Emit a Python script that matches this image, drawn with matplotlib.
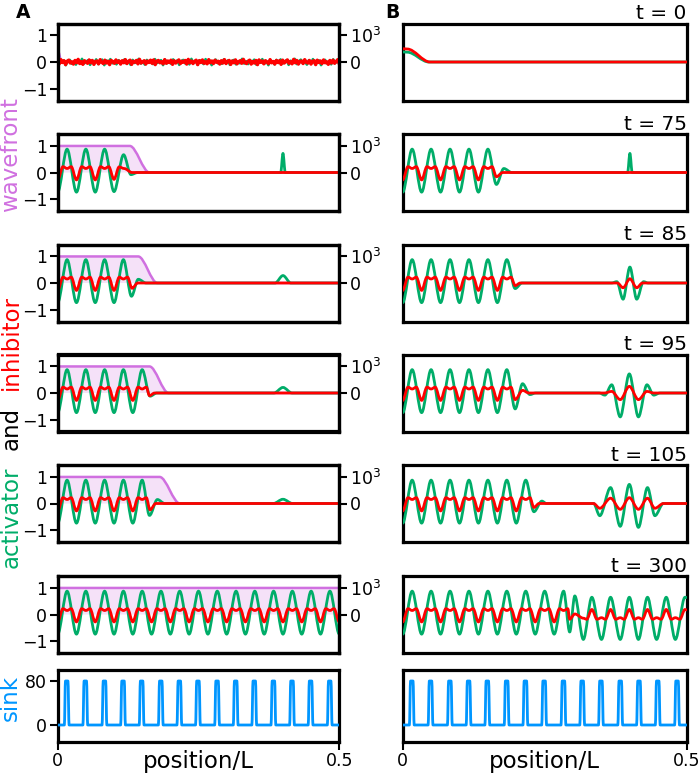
import numpy as np
import matplotlib
matplotlib.use('Agg')
import matplotlib.pyplot as plt
from matplotlib.path import Path
from matplotlib.patches import PathPatch

GREEN = '#00ad69'
RED = '#ff0000'
VIOLET = '#d070e0'
VFILL = '#f5e1f8'
BLUE = '#0096ff'

# ---------------- data ----------------
PERIOD = 1 / 30
ACT_TROUGH, ACT_PEAK = -0.74, 0.88
INH_PHASES = [0.0, 0.28, 0.5, 0.72]
INH_VALUES = [-0.28, 0.22, 0.15, 0.22]

TIMES = ['t = 0', 't = 75', 't = 85', 't = 95', 't = 105', 't = 300']
A_PERIODS = [0, 3, 4, 5, 5, 15]
B_PERIODS = [0, 5, 6, 6, 7, 9]

# noise at t = 0 (panel A)
RED_NOISE = [
    0.04, -0.07, 0.09, -0.02, 0.05, -0.10, 0.03, 0.07, -0.04, 0.01, -0.08, 0.06, -0.03, 0.10, -0.06, 0.02, -0.09, 0.05, 0.00, -0.05,
    0.08, -0.03, 0.06, -0.09, 0.02, 0.04, -0.07, 0.09, -0.01, -0.06, 0.07, -0.04, 0.03, -0.10, 0.06, 0.01, -0.05, 0.08, -0.02, 0.04,
    -0.08, 0.05, -0.03, 0.09, -0.06, 0.02, 0.07, -0.09, 0.03, -0.01, 0.06, -0.07, 0.10, -0.04, 0.00, 0.05, -0.08, 0.04, -0.02, 0.07,
    -0.05, 0.08, -0.10, 0.03, 0.06, -0.03, 0.01, -0.07, 0.09, -0.05, 0.04, -0.02, 0.07, -0.09, 0.05, -0.04, 0.02, 0.08, -0.06, 0.03,
    -0.01, 0.06, -0.08, 0.10, -0.03, 0.04, -0.06, 0.02, 0.07, -0.10, 0.05, -0.02, 0.08, -0.05, 0.01, -0.07, 0.09, -0.03, 0.04, -0.06,
    0.07, -0.01, 0.03, -0.08, 0.05, -0.04, 0.09, -0.06, 0.02, 0.06, -0.09, 0.04, -0.03, 0.08, -0.07, 0.01, 0.05, -0.05, 0.10, -0.02,
    -0.06, 0.03, 0.07, -0.08, 0.02, -0.04, 0.06, -0.10, 0.08, -0.01, 0.04, -0.07, 0.05, 0.00, -0.06, 0.09, -0.03, 0.02, -0.08, 0.06,
    -0.02, 0.05, -0.09, 0.07, -0.04, 0.03, 0.08, -0.05, 0.01, -0.07, 0.10, -0.03, 0.06, -0.08, 0.02, 0.04, -0.06, 0.09, -0.01, -0.04,
    0.06, -0.08, 0.03, 0.05, -0.10, 0.07, -0.02, 0.04, -0.06, 0.08, -0.03, 0.01, -0.09, 0.06, -0.04, 0.07, -0.05, 0.02, 0.09, -0.07]
GREEN_NOISE = [
    -0.09, 0.11, -0.03, 0.06, -0.12, 0.04, 0.08, -0.07, 0.02, -0.10, 0.09, -0.04, 0.12, -0.06, 0.01, 0.07, -0.11, 0.05, -0.02, 0.10,
    -0.08, 0.03, 0.09, -0.12, 0.06, -0.01, 0.11, -0.05, 0.04, -0.09, 0.07, -0.03, 0.02, 0.10, -0.07, 0.05, -0.11, 0.08, -0.04, 0.01,
    0.12, -0.06, 0.03, -0.10, 0.08, -0.02, 0.05, -0.08, 0.11, -0.04, 0.00, 0.07, -0.12, 0.09, -0.05, 0.03, -0.07, 0.10, -0.01, 0.06,
    -0.11, 0.04, 0.08, -0.06, 0.02, -0.09, 0.12, -0.03, 0.05, -0.10, 0.07, 0.01, -0.08, 0.11, -0.04, 0.06, -0.12, 0.03, 0.09, -0.05,
    0.02, -0.07, 0.10, -0.02, 0.06, -0.11, 0.04, 0.08, -0.09, 0.01, -0.05, 0.12, -0.06, 0.03, -0.08, 0.07, -0.01, 0.09, -0.10, 0.05,
    -0.03, 0.11, -0.07, 0.04, -0.12, 0.06, 0.02, -0.09, 0.08, -0.04, 0.10, -0.06, 0.01, 0.07, -0.11, 0.05, -0.02, 0.12, -0.08, 0.03,
    0.09, -0.05, 0.02, -0.10, 0.07, -0.03, 0.11, -0.08, 0.04, 0.06, -0.12, 0.01, 0.08, -0.06, 0.03, -0.09, 0.10, -0.04, 0.05, -0.07]

# wavefront (panel A): (x, value) key points
A_WAVE = [
    [(0.0, 0.45), (0.007, 0.0), (0.5, 0.0)],
    [(0.0, 1.0), (0.128, 1.0), (0.163, 0.0), (0.5, 0.0)],
    [(0.0, 1.0), (0.143, 1.0), (0.177, 0.0), (0.5, 0.0)],
    [(0.0, 1.0), (0.163, 1.0), (0.197, 0.0), (0.5, 0.0)],
    [(0.0, 1.0), (0.181, 1.0), (0.217, 0.0), (0.5, 0.0)],
    [(0.0, 1.0), (0.5, 1.0)],
]

# extrema after the developed pattern (panel A)
A_ACT_TAIL = [
    None,
    [(0.1, -0.72), (0.117, 0.67), (0.13, -0.08), (0.142, 0.0), (0.396, 0.0), (0.4, 0.72), (0.404, 0.0), (0.5, 0.0)],
    [(0.131, -0.5), (0.143, 0.14), (0.157, 0.0), (0.386, 0.0), (0.4, 0.28), (0.414, 0.0), (0.5, 0.0)],
    [(0.164, -0.12), (0.176, 0.0), (0.384, 0.0), (0.4, 0.21), (0.416, 0.0), (0.5, 0.0)],
    [(0.163, -0.45), (0.177, 0.15), (0.19, 0.0), (0.383, 0.0), (0.4, 0.16), (0.417, 0.0), (0.5, 0.0)],
    [(0.5, -0.74)],
]
A_INH_TAIL = [
    None,
    [(0.1, -0.26), (0.109, 0.21), (0.118, 0.15), (0.132, 0.0), (0.5, 0.0)],
    [(0.132, -0.2), (0.142, 0.0), (0.5, 0.0)],
    [(0.163, -0.1), (0.172, 0.0), (0.5, 0.0)],
    [(0.164, -0.24), (0.174, 0.0), (0.5, 0.0)],
    [(0.5, -0.28)],
]

# panel B
B_ACT_TAIL = [
    [(0.0, 0.38), (0.008, 0.37), (0.046, 0.0), (0.5, 0.0)],
    [(0.165, -0.45), (0.178, 0.15), (0.192, 0.0), (0.396, 0.0), (0.4, 0.72), (0.404, 0.0), (0.5, 0.0)],
    [(0.198, -0.21), (0.21, 0.0), (0.368, 0.0), (0.377, 0.05), (0.388, -0.61), (0.4, 0.6), (0.412, -0.61),
     (0.424, 0.05), (0.432, 0.0), (0.5, 0.0)],
    [(0.198, -0.6), (0.211, 0.35), (0.224, -0.06), (0.234, 0.0), (0.346, 0.0), (0.356, -0.08), (0.368, 0.31),
     (0.383, -0.9), (0.399, 0.72), (0.415, -0.9), (0.43, 0.31), (0.442, -0.08), (0.453, 0.0), (0.5, 0.0)],
    [(0.231, -0.31), (0.245, 0.09), (0.253, 0.0), (0.336, 0.0), (0.347, -0.46), (0.366, 0.6), (0.383, -0.86),
     (0.399, 0.72), (0.415, -0.9), (0.431, 0.6), (0.444, -0.46), (0.459, 0.0), (0.5, 0.0)],
    [(0.294, -0.66), (0.303, 0.7), (0.318, -0.94), (0.333, 0.65), (0.35, -0.94), (0.366, 0.65), (0.383, -0.94),
     (0.399, 0.65), (0.415, -0.94), (0.431, 0.65), (0.447, -0.94), (0.464, 0.65), (0.48, -0.94), (0.497, 0.65),
     (0.5, 0.64)],
]
B_INH_TAIL = [
    [(0.0, 0.5), (0.008, 0.49), (0.048, 0.0), (0.5, 0.0)],
    [(0.165, -0.16), (0.176, 0.0), (0.5, 0.0)],
    [(0.198, -0.1), (0.207, 0.0), (0.378, 0.0), (0.388, -0.18), (0.4, 0.16), (0.412, -0.18), (0.422, 0.0), (0.5, 0.0)],
    [(0.198, -0.25), (0.211, 0.1), (0.222, 0.0), (0.355, 0.0), (0.368, 0.06), (0.383, -0.25), (0.399, 0.25),
     (0.415, -0.25), (0.43, 0.06), (0.442, 0.0), (0.5, 0.0)],
    [(0.231, -0.15), (0.24, 0.0), (0.336, 0.0), (0.347, -0.18), (0.366, 0.2), (0.383, -0.22), (0.399, 0.22),
     (0.415, -0.22), (0.431, 0.2), (0.444, -0.18), (0.459, 0.0), (0.5, 0.0)],
    [(0.294, -0.18), (0.303, 0.02), (0.318, -0.14), (0.324, -0.18), (0.333, 0.19), (0.342, -0.18), (0.35, -0.12),
     (0.357, -0.18), (0.366, 0.19), (0.375, -0.18), (0.383, -0.12), (0.39, -0.18), (0.399, 0.19), (0.408, -0.18),
     (0.415, -0.12), (0.422, -0.18), (0.431, 0.19), (0.44, -0.18), (0.447, -0.12), (0.455, -0.18), (0.464, 0.19),
     (0.473, -0.18), (0.48, -0.12), (0.488, -0.18), (0.497, 0.19), (0.5, 0.17)],
]

SINK_PEAKS = [0.016, 0.049, 0.083, 0.116, 0.149, 0.183, 0.216, 0.249, 0.283, 0.316, 0.349, 0.383, 0.416, 0.449, 0.483]
SINK_HEIGHT = 80


# ---------------- helpers ----------------
def developed(n):
    act, inh = [], []
    for k in range(n):
        act += [(k * PERIOD, ACT_TROUGH), ((k + 0.5) * PERIOD, ACT_PEAK)]
        for ph, v in zip(INH_PHASES, INH_VALUES):
            inh.append(((k + ph) * PERIOD, v))
    return act, inh


def smooth_verts(pts):
    verts = [pts[0]]
    codes = [Path.MOVETO]
    for (x0, y0), (x1, y1) in zip(pts[:-1], pts[1:]):
        d = (x1 - x0) / 3
        verts += [(x0 + d, y0), (x1 - d, y1), (x1, y1)]
        codes += [Path.CURVE4] * 3
    return verts, codes


def draw_smooth(ax, pts, color, lw, z=3):
    verts, codes = smooth_verts(pts)
    ax.add_patch(PathPatch(Path(verts, codes), facecolor='none', edgecolor=color,
                           lw=lw, zorder=z, capstyle='round', joinstyle='round'))


def fill_smooth(ax, pts, color, z=1):
    verts, codes = smooth_verts(pts)
    verts = verts + [(pts[-1][0], 0.0), (pts[0][0], 0.0), (pts[0][0], 0.0)]
    codes = codes + [Path.LINETO, Path.LINETO, Path.CLOSEPOLY]
    ax.add_patch(PathPatch(Path(verts, codes), facecolor=color, edgecolor='none', zorder=z))


def sink_pts():
    pts = [(0.0, 0.0)]
    for c in SINK_PEAKS:
        pts += [(c - 0.0042, 0.0), (c - 0.0022, SINK_HEIGHT), (c + 0.0022, SINK_HEIGHT), (c + 0.0042, 0.0)]
    pts.append((0.5, 0.0))
    return pts


# ---------------- figure ----------------
W, H = 699, 773
fig = plt.figure(figsize=(W / 100, H / 100), dpi=100)

LEFT_X, LEFT_W = 57.7, 281.6
RIGHT_X, RIGHT_W = 402.7, 284.0
ROW_TOPS = [23.5, 134.0, 244.5, 354.5, 465.0, 576.0]
ROW_H = 77.0
SINK_TOP, SINK_H = 670.0, 71.5

SPINE_LW = 2.3
TICK_FS = 12.5
LABEL_FS = 16.5


def make_ax(x, w, top, h):
    ax = fig.add_axes([x / W, 1 - (top + h) / H, w / W, h / H])
    for s in ax.spines.values():
        s.set_linewidth(SPINE_LW)
    ax.tick_params(length=5.5, width=1.5, labelsize=TICK_FS, pad=2)
    ax.set_xlim(0, 0.5)
    return ax


for i in range(6):
    # ---- panel A ----
    ax = make_ax(LEFT_X, LEFT_W, ROW_TOPS[i], ROW_H)
    ax.set_ylim(-1.45, 1.45)
    ax.set_yticks([-1, 0, 1])
    ax.set_yticklabels(['\u22121', '0', '1'])
    ax.set_xticks([])
    fill_smooth(ax, A_WAVE[i], VFILL, z=1)
    draw_smooth(ax, A_WAVE[i], VIOLET, 1.8, z=2)
    if i == 0:
        xs_g = np.linspace(0, 0.5, len(GREEN_NOISE))
        xs_r = np.linspace(0, 0.5, len(RED_NOISE))
        ax.plot(xs_g, GREEN_NOISE, color=GREEN, lw=1.8, zorder=3)
        ax.plot(xs_r, RED_NOISE, color=RED, lw=2.4, zorder=4)
    else:
        act, inh = developed(A_PERIODS[i])
        draw_smooth(ax, act + A_ACT_TAIL[i], GREEN, 2.0, z=3)
        draw_smooth(ax, inh + A_INH_TAIL[i], RED, 2.0, z=4)
    tw = ax.twinx()
    tw.set_ylim(-1450, 1450)
    tw.set_yticks([0, 1000])
    tw.set_yticklabels(['0', '$10^3$'])
    tw.tick_params(length=5.5, width=1.5, labelsize=TICK_FS, pad=2)
    for s in tw.spines.values():
        s.set_linewidth(SPINE_LW)

    # ---- panel B ----
    bx = make_ax(RIGHT_X, RIGHT_W, ROW_TOPS[i], ROW_H)
    bx.set_ylim(-1.45, 1.45)
    bx.set_yticks([])
    bx.set_xticks([])
    act, inh = developed(B_PERIODS[i])
    draw_smooth(bx, act + B_ACT_TAIL[i], GREEN, 2.0, z=3)
    draw_smooth(bx, inh + B_INH_TAIL[i], RED, 2.0, z=4)
    bx.set_title(TIMES[i], loc='right', fontsize=14.5, pad=3)

# sink panels
for j, (x, w) in enumerate([(LEFT_X, LEFT_W), (RIGHT_X, RIGHT_W)]):
    sx = make_ax(x, w, SINK_TOP, SINK_H)
    sx.set_ylim(-30, 100)
    draw_smooth(sx, sink_pts(), BLUE, 2.0)
    sx.set_xticks([0, 0.5])
    sx.set_xticklabels(['0', '0.5'])
    if j == 0:
        sx.set_yticks([0, 80])
    else:
        sx.set_yticks([])
    sx.set_xlabel('position/L', fontsize=LABEL_FS)
    sx.xaxis.set_label_coords(0.5, -0.115)

# y labels
fig.text(11 / W, 1 - 517 / H, 'activator', rotation=90, color=GREEN, fontsize=LABEL_FS, ha='center', va='center')
fig.text(11 / W, 1 - 428.5 / H, 'and', rotation=90, color='black', fontsize=LABEL_FS, ha='center', va='center')
fig.text(11 / W, 1 - 342.5 / H, 'inhibitor', rotation=90, color=RED, fontsize=LABEL_FS, ha='center', va='center')
fig.text(11 / W, 1 - 154.5 / H, 'wavefront', rotation=90, color=VIOLET, fontsize=LABEL_FS, ha='center', va='center')
fig.text(10 / W, 1 - 698 / H, 'sink', rotation=90, color=BLUE, fontsize=LABEL_FS, ha='center', va='center')

fig.text(16 / W, 1 - 3 / H, 'A', fontsize=13.5, fontweight='bold', ha='left', va='top')
fig.text(385 / W, 1 - 3 / H, 'B', fontsize=13.5, fontweight='bold', ha='left', va='top')

fig.savefig('out.png', dpi=100)
